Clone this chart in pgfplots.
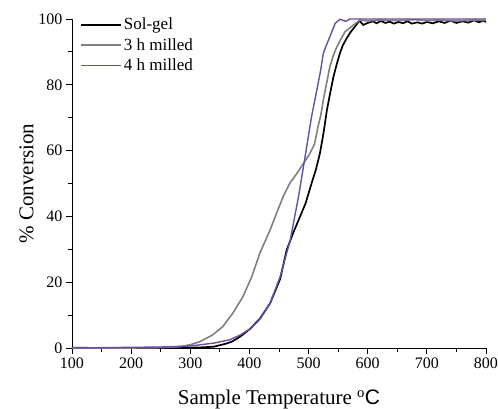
\documentclass[border=0pt]{standalone}
\usepackage{pgfplots}
\pgfplotsset{compat=1.18}
\usepackage{fontspec}
\setmainfont{Liberation Serif}
\newfontfamily\sansC{Liberation Sans}
\definecolor{solgel}{RGB}{0,0,0}
\definecolor{mthree}{RGB}{128,128,128}
\definecolor{mfour}{RGB}{104,78,168}
\begin{document}
\begin{tikzpicture}
\useasboundingbox (-72pt,-61pt) rectangle (426pt,348pt);
\begin{axis}[
  at={(0,0)}, anchor=south west,
  scale only axis, width=414pt, height=329pt,
  xmin=100, xmax=800, ymin=0, ymax=100,
  axis x line*=bottom, axis y line*=left,
  axis line style={line width=0.8pt,-},
  xtick={100,200,...,800}, ytick={0,20,...,100},
  minor x tick num=1, minor y tick num=1,
  tick align=outside,
  major tick length=6pt, minor tick length=4pt,
  tick style={line width=0.8pt,black},
  ticklabel style={font=\fontsize{16}{18}\selectfont},
  /pgf/number format/assume math mode=true,
  /pgf/number format/1000 sep={},
  xlabel={Sample Temperature \textsuperscript{o}{\sansC C}},
  ylabel={\% Conversion},
  label style={font=\fontsize{21}{24}\selectfont},
  xlabel style={yshift=-15pt},
  ylabel style={yshift=-2pt},
  legend style={draw=none, fill=none, at={(0,1)}, anchor=north west,
    xshift=8pt, yshift=3pt,
    font=\fontsize{17}{20}\selectfont, row sep=3pt, inner sep=0pt},
  legend cell align=left,
  legend image code/.code={\draw[#1] (0pt,0pt) -- (40pt,0pt);},
  clip=false,
]
\addplot[solgel, line width=1.7pt] coordinates {
(100,0.1)(150,0)(200,0)(250,0)(300,0.1)(320,0.2)(340,0.4)(360,1.3)(370,1.9)(384,3.4)(401,5.8)(418,9)(435,13.6)(452,21)(463,29.8)(474,35)(485.5,39.9)(495,44)(505,50)(512,54)(519,59)(525,65)(531,72.3)(536,77)(542,82.4)(548,86.5)(553,89.6)(558,92)(564,94)(571,96)(578.5,97.7)(586,99.5)(592.5,98.2)(600,98.8)(609,99.3)(615,98.7)(622,99.4)(630,98.8)(637,99.2)(644,98.6)(652,99.1)(660,98.7)(667,99.3)(675,98.6)(684,99.0)(692,98.6)(700,99.1)(710,98.7)(720,99.3)(730,98.8)(740,99.5)(750,98.8)(760,99.3)(770,98.9)(780,99.6)(788,99.0)(795,99.5)(800,99.1)};
\addlegendentry{Sol-gel}
\addplot[mthree, line width=1.6pt] coordinates {
(100,0)(200,0)(250,0.1)(283,0.4)(300,1.0)(316,1.9)(338,4)(355,6.5)(372,10.6)(389,15.6)(404,21.7)(418,29)(435,35.9)(446,41)(457,46)(468,50)(480,53)(491,56)(502,59)(510,62)(516,67.3)(521,71)(525,75.4)(530,80)(536,85.5)(542,89)(548,91.6)(555,94)(562,96.2)(570,97.3)(576,98.2)(587,99.7)(600,99.4)(620,99.7)(650,99.5)(680,99.8)(700,99.5)(720,99.7)(750,99.4)(780,99.7)(800,99.6)};
\addlegendentry{3 h milled}
\addplot[mfour, line width=1.4pt] coordinates {
(100,0)(200,0.2)(250,0.3)(300,0.6)(340,1.5)(367,2.5)(385,4)(401,5.8)(418,8.8)(435,13.6)(452,21.7)(469,32.8)(483,46)(494,58)(505,70.3)(514,78.4)(520,84)(525,89.6)(530,92)(536,94.6)(545,98.7)(553,99.9)(563,99.3)(570,100)(600,100)(650,100)(700,100)(750,100)(800,100)};
\addlegendentry{4 h milled}
\end{axis}
\end{tikzpicture}
\end{document}
